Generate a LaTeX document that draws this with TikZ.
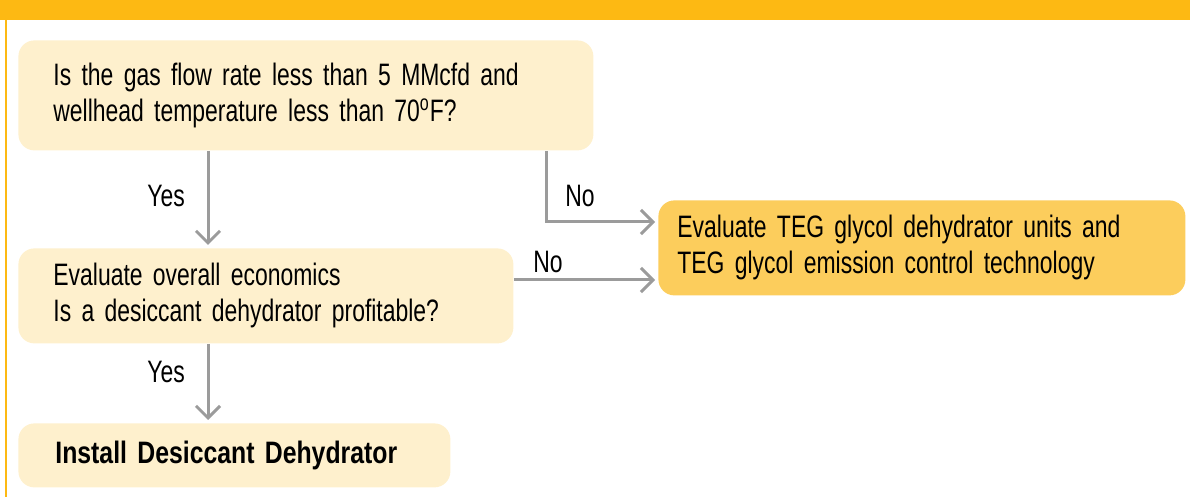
\documentclass[tikz,border=0pt]{standalone}
\usepackage{fontspec}
\setmainfont[FakeStretch=0.74, BoldFeatures={FakeStretch=0.8}]{Liberation Sans}
\usetikzlibrary{arrows.meta, positioning}
\definecolor{ygold}{HTML}{FDB913}
\definecolor{ylight}{HTML}{FEF0CD}
\definecolor{yorange}{HTML}{FCCD5C}
\definecolor{garrow}{HTML}{9B9B9B}

\begin{document}
\begin{tikzpicture}[x=0.5pt, y=-0.5pt,
                    font=\fontsize{15.5}{18}\selectfont]
    \tikzstyle{every node}=[draw = none]
    \tikzstyle{qbox}=[fill = ylight, rounded corners = 8pt, anchor = north west, align = left, inner ysep = 0pt]
    \tikzstyle{flow}=[draw = garrow, line width = 1.5pt, -{Straight Barb[length=6pt, width=12pt, line width=1.5pt]}]
    \useasboundingbox (0,0) rectangle (1190,497);
    \fill[fill = ygold] (0,0) rectangle (1190,20);
    \draw[draw = ygold, line width = 0.6pt] (6,20) -- (6,497);
    % boxes
    \node[qbox, inner xsep = 17.5pt, text width = 252.5pt, minimum height = 55pt] (q1) at (18,40)
        {Is the gas flow rate less than 5 MMcfd and\\wellhead temperature less than 70\textsuperscript{o}F?};
    \node[qbox, inner xsep = 17.5pt, text width = 212.5pt, minimum height = 47.5pt] (q2) at (18,248)
        {Evaluate overall economics\\Is a desiccant dehydrator profitable?};
    \node[qbox, fill = yorange, inner xsep = 9.5pt, text width = 244.5pt, minimum height = 47.5pt] (teg) at (658,200)
        {Evaluate TEG glycol dehydrator units and\\TEG glycol emission control technology};
    \node[qbox, inner xsep = 18.5pt, text width = 179pt, minimum height = 32pt] (install) at (18,423)
        {\textbf{Install Desiccant Dehydrator}};
    % connectors
    \coordinate (yescol) at (208,0);
    \coordinate (nocol) at (546,0);
    \coordinate (row1) at (0,222);
    \coordinate (row2) at (0,280);
    \draw[flow, shorten > = 1.5pt] (q1.south -| yescol) -- (q2.north -| yescol);
    \draw[flow, shorten > = 1.5pt] (q2.south -| yescol) -- (install.north -| yescol);
    \draw[flow, shorten > = 1.5pt] (q1.south -| nocol) |- (teg.west |- row1);
    \draw[flow, shorten > = 1.5pt] (q2.east |- row2) -- (teg.west |- row2);
    % labels
    \node (yes1) at (166,196) {Yes};
    \node (no1) at (580,196) {No};
    \node (no2) at (548,262) {No};
    \node (yes2) at (166,372) {Yes};
\end{tikzpicture}
\end{document}
